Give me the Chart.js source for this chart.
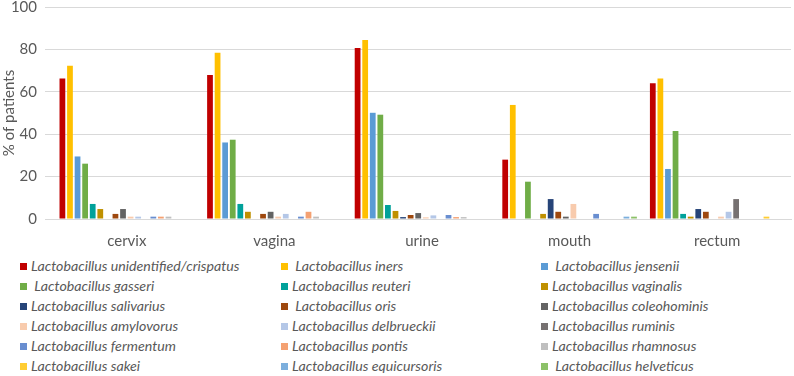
<!DOCTYPE html>
<html>
<head>
<meta charset="utf-8">
<script src="https://cdn.jsdelivr.net/npm/chart.js@4.4.0/dist/chart.umd.min.js"></script>
<style>
  body { margin: 0; background: #fff; width: 794px; height: 376px; overflow: hidden; position: relative; font-family: Lato, "Liberation Sans", sans-serif; }
  #wrap { position: absolute; left: 0; top: -10px; width: 794px; height: 262px; }
  .item { position: absolute; font-style: italic; font-size: 14.2px; color: #595959; white-space: pre; line-height: 20px; }
  .box { position: absolute; width: 7px; height: 7px; }
</style>
</head>
<body>
<div id="wrap"><canvas id="chartjs"></canvas></div>
<div id="legend"></div>
<script>
// sites sampled
const sites = ['cervix', 'vagina', 'urine', 'mouth', 'rectum'];

// species, in series order (legend is laid out row by row in 3 columns)
const species = [
  'Lactobacillus unidentified/crispatus', ' Lactobacillus iners', ' Lactobacillus jensenii',
  ' Lactobacillus gasseri', 'Lactobacillus reuteri', 'Lactobacillus vaginalis',
  'Lactobacillus salivarius', ' Lactobacillus oris', 'Lactobacillus coleohominis',
  'Lactobacillus amylovorus', 'Lactobacillus delbrueckii', 'Lactobacillus ruminis',
  'Lactobacillus fermentum', 'Lactobacillus pontis', 'Lactobacillus rhamnosus',
  'Lactobacillus sakei', 'Lactobacillus equicursoris', ' Lactobacillus helveticus'
];

const colors = [
  '#C00000', '#FFC000', '#5B9BD5',
  '#70AD47', '#00A19A', '#BF9000',
  '#264478', '#9E480E', '#636363',
  '#F8CBAD', '#B4C7E7', '#767171',
  '#698ED0', '#F4A172', '#BFBFBF',
  '#FFCD33', '#7CAFDD', '#8CC168'
];

// % of patients per species, values for cervix, vagina, urine, mouth, rectum
const crispatus    = [66.3, 67.9, 80.7, 28.0, 64.0];
const iners        = [72.3, 78.4, 84.4, 53.8, 66.3];
const jensenii     = [29.5, 36.1, 50.1, 0, 23.6];
const gasseri      = [26.1, 37.4, 49.2, 17.6, 41.5];
const reuteri      = [7.1, 7.1, 6.6, 0, 2.4];
const vaginalis    = [4.7, 3.4, 3.8, 2.4, 1.1];
const salivarius   = [0, 0, 0.9, 9.4, 4.7];
const oris         = [2.4, 2.4, 1.9, 3.4, 3.4];
const coleohominis = [4.7, 3.4, 2.8, 1.1, 0];
const amylovorus   = [1.1, 1.1, 0.8, 7.1, 1.1];
const delbrueckii  = [1.1, 2.4, 1.7, 0, 3.4];
const ruminis      = [0, 0, 0, 0, 9.4];
const fermentum    = [1.1, 1.1, 1.9, 2.4, 0];
const pontis       = [1.1, 3.4, 0.9, 0, 0];
const rhamnosus    = [1.1, 1.1, 0.9, 0, 0];
const sakei        = [0, 0, 0, 0, 1.1];
const equicursoris = [0, 0, 0, 1.1, 0];
const helveticus   = [0, 0, 0, 1.1, 0];

const yTicks = [0, 20, 40, 60, 80, 100];

const series = [crispatus, iners, jensenii, gasseri, reuteri, vaginalis,
  salivarius, oris, coleohominis, amylovorus, delbrueckii, ruminis,
  fermentum, pontis, rhamnosus, sakei, equicursoris, helveticus];

const grey = '#595959';
const font = 'Lato, "Liberation Sans", sans-serif';

const datasets = series.map((vals, i) => ({
  label: species[i].trim(),
  data: vals,
  backgroundColor: colors[i],
  borderWidth: 0,
  barPercentage: 0.76,
  categoryPercentage: 0.924
}));

const ctx = document.getElementById('chartjs').getContext('2d');
new Chart(ctx, {
  type: 'bar',
  data: { labels: sites, datasets: datasets },
  options: {
    responsive: true,
    maintainAspectRatio: false,
    animation: false,
    layout: { padding: { left: 0, right: 3, top: 0, bottom: 0 } },
    plugins: { legend: { display: false }, tooltip: { enabled: false } },
    scales: {
      x: {
        grid: { display: false },
        border: { color: '#d9d9d9' },
        ticks: { color: grey, font: { family: font, size: 15 }, padding: 5 },
        afterFit: s => { s.height = 33; }
      },
      y: {
        min: 0,
        max: 100,
        afterBuildTicks: s => { s.ticks = yTicks.map(v => ({ value: v })); },
        grid: { color: '#d9d9d9', lineWidth: 1 },
        border: { display: false },
        ticks: { color: grey, font: { family: font, size: 15 }, padding: 8 },
        title: { display: true, text: '% of patients', color: grey, font: { family: font, size: 15 }, padding: 0 },
        afterFit: s => { s.width = 53; }
      }
    }
  }
});

// legend below the plot, 3 columns x 6 rows
const legend = document.getElementById('legend');
const colX = [20, 281, 541];
species.forEach((name, i) => {
  const col = i % 3, row = Math.floor(i / 3);
  const cy = 266 + row * 20;
  const box = document.createElement('div');
  box.className = 'box';
  box.style.left = colX[col] + 'px';
  box.style.top = (cy - 3.5) + 'px';
  box.style.background = colors[i];
  legend.appendChild(box);
  const t = document.createElement('div');
  t.className = 'item';
  t.style.left = (colX[col] + 11) + 'px';
  t.style.top = (cy - 10) + 'px';
  t.textContent = name;
  legend.appendChild(t);
});
</script>
</body>
</html>
